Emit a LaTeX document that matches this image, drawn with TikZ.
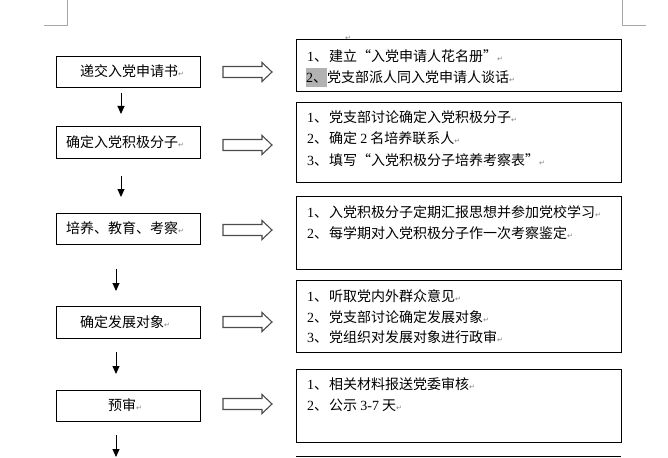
\documentclass[tikz,border=0pt]{standalone}
\usepackage{fontspec}
\setmainfont{Noto Sans CJK SC}
\newfontfamily\latf{Liberation Serif}
\newfontfamily\dejavu{DejaVu Sans}
\usetikzlibrary{arrows.meta}
\newcommand\retmark{{\dejavu\fontsize{7}{7}\selectfont\color{gray}↵}}
\newcommand\numlab[1]{\makebox[22pt][l]{{\latf #1}、}}
\tikzset{
  box/.style={draw, line width=1pt, inner sep=0pt, minimum width=144pt},
  rbox/.style={draw, line width=1pt, inner sep=0pt, minimum width=325pt},
  txt/.style={anchor=base west, inner sep=0pt, font=\fontsize{14}{14}\selectfont},
  varrow/.style={line width=1pt, -{Triangle[width=7pt,length=8pt]}},
  corner/.style={draw=black!35, line width=0.8pt},
  hollow/.style={draw=black!70, line width=1.1pt, fill=white, line join=miter}
}
\newcommand\harrow[1]{%
  \draw[hollow] (223,#1-5.5) -- (262,#1-5.5) -- (262,#1-9.5) -- (272,#1) -- (262,#1+9.5) -- (262,#1+5.5) -- (223,#1+5.5) -- cycle;}
\begin{document}
\begin{tikzpicture}[x=1pt,y=-1pt]
\useasboundingbox (0,0) rectangle (668,457);
% page corner marks
\draw[corner] (67,0) -- (67,25) -- (44,25);
\draw[corner] (622,0) -- (622,25) -- (646,25);
\node[txt] (pm0) at (345,41) {\retmark};

% left boxes
\node[box, minimum height=31pt] (L1) at (128,72.5) {};
\node[box, minimum height=31pt] (L2) at (128,142.5) {};
\node[box, minimum height=31pt] (L3) at (128,228.5) {};
\node[box, minimum height=32pt] (L4) at (128,322) {};
\node[box, minimum height=31pt] (L5) at (128,405.5) {};

\node[txt] (t1) at (80,77) {递交入党申请书\retmark};
\node[txt] (t2) at (66,147) {确定入党积极分子\retmark};
\node[txt] (t3) at (66,233) {培养、教育、考察\retmark};
\node[txt] (t4) at (80,327) {确定发展对象\retmark};
\node[txt] (t5) at (108,410) {预审\retmark};

% vertical arrows
\coordinate (v1a) at (121,93);  \coordinate (v1b) at (121,114);
\coordinate (v2a) at (121,176); \coordinate (v2b) at (121,197);
\coordinate (v3a) at (116,269); \coordinate (v3b) at (116,291);
\coordinate (v4a) at (116,352); \coordinate (v4b) at (116,374);
\coordinate (v5a) at (116,435); \coordinate (v5b) at (116,457);
\draw[varrow] (v1a) -- (v1b);
\draw[varrow] (v2a) -- (v2b);
\draw[varrow] (v3a) -- (v3b);
\draw[varrow] (v4a) -- (v4b);
\draw[varrow] (v5a) -- (v5b);

% hollow arrows
\harrow{72}
\harrow{145}
\harrow{230}
\harrow{322}
\harrow{404}

% right boxes
\node[rbox, minimum height=52pt] (R1) at (458.5,66) {};
\node[rbox, minimum height=79pt] (R2) at (458.5,142.5) {};
\node[rbox, minimum height=73pt] (R3) at (458.5,232.5) {};
\node[rbox, minimum height=72pt] (R4) at (458.5,316) {};
\node[rbox, minimum height=73pt] (R5) at (458.5,405.5) {};
\draw[line width=1pt] (296,456.5) -- (621,456.5);

% right texts
\fill[black!30] (306,68) rectangle (327,87);
\node[txt] (r11) at (307,62) {\numlab{1}建立“入党申请人花名册”\retmark};
\node[txt] (r12) at (306,83) {{\latf 2}、党支部派人同入党申请人谈话\retmark};

\node[txt] (r21) at (307,123) {\numlab{1}党支部讨论确定入党积极分子\retmark};
\node[txt] (r22) at (307,144) {\numlab{2}确定 {\latf 2} 名培养联系人\retmark};
\node[txt] (r23) at (307,165) {\numlab{3}填写“入党积极分子培养考察表”\retmark};

\node[txt] (r31) at (307,217) {\numlab{1}入党积极分子定期汇报思想并参加党校学习\retmark};
\node[txt] (r32) at (307,238) {\numlab{2}每学期对入党积极分子作一次考察鉴定\retmark};

\node[txt] (r41) at (307,301) {\numlab{1}听取党内外群众意见\retmark};
\node[txt] (r42) at (307,322) {\numlab{2}党支部讨论确定发展对象\retmark};
\node[txt] (r43) at (307,342) {\numlab{3}党组织对发展对象进行政审\retmark};

\node[txt] (r51) at (307,389) {\numlab{1}相关材料报送党委审核\retmark};
\node[txt] (r52) at (307,410) {\numlab{2}公示 {\latf 3-7} 天\retmark};
\end{tikzpicture}
\end{document}
